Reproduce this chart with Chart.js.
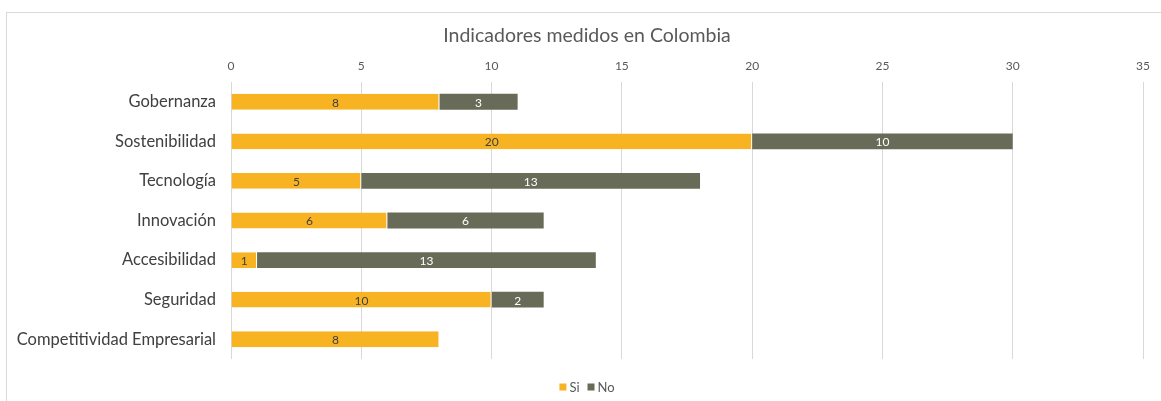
<!DOCTYPE html>
<html>
<head>
<meta charset="utf-8">
<script src="https://cdn.jsdelivr.net/npm/chart.js@4/dist/chart.umd.min.js"></script>
<style>
  html, body { margin: 0; padding: 0; background: #fff; overflow: hidden; }
  #frame { position: absolute; left: 6px; top: 12px; width: 1200px; height: 450px; border: 1px solid #d9d9d9; box-sizing: border-box; }
  #wrap { position: absolute; left: 0; top: 0; width: 1161px; height: 401px; }
</style>
</head>
<body>
<div id="frame"></div>
<div id="wrap"><canvas id="chart"></canvas></div>
<script>
// Categories and series values
const categories = ['Gobernanza', 'Sostenibilidad', 'Tecnología', 'Innovación', 'Accesibilidad', 'Seguridad', 'Competitividad Empresarial'];
const siValues = [8, 20, 5, 6, 1, 10, 8];
const noValues = [3, 10, 13, 6, 13, 2, 0];
const xTicks = [0, 5, 10, 15, 20, 25, 30, 35];

const FONT = 'Lato, "Open Sans", sans-serif';
const TITLE = 'Indicadores medidos en Colombia';

// Draws the value inside each bar segment
const segmentLabels = {
  id: 'segmentLabels',
  afterDatasetsDraw(chart) {
    const ctx = chart.ctx;
    ctx.save();
    ctx.font = '12px ' + FONT;
    ctx.textAlign = 'center';
    ctx.textBaseline = 'middle';
    chart.data.datasets.forEach((ds, di) => {
      const meta = chart.getDatasetMeta(di);
      meta.data.forEach((bar, i) => {
        const v = ds.data[i];
        if (!v) return;
        const cx = (bar.x + bar.base) / 2;
        ctx.fillStyle = ds.labelColor;
        ctx.fillText(String(v), cx, bar.y + 1);
      });
    });
    ctx.restore();
  }
};

// Title and legend placed like the spreadsheet chart (centred a bit right of the plot)
const titleAndLegend = {
  id: 'titleAndLegend',
  afterDraw(chart) {
    const ctx = chart.ctx;
    const centerX = 587;
    ctx.save();
    ctx.fillStyle = '#595959';
    ctx.textBaseline = 'middle';
    ctx.textAlign = 'center';
    ctx.font = '19.5px ' + FONT;
    ctx.fillText(TITLE, centerX, 36);

    // legend
    ctx.font = '13px ' + FONT;
    ctx.textAlign = 'left';
    const box = 7, gap = 3, spacing = 8;
    const items = chart.data.datasets.map(ds => ({ text: ds.label, color: ds.backgroundColor, w: ctx.measureText(ds.label).width }));
    const total = items.reduce((s, it) => s + box + gap + it.w, 0) + spacing * (items.length - 1);
    let x = centerX - total / 2;
    const y = 387;
    items.forEach(it => {
      ctx.fillStyle = it.color;
      ctx.fillRect(x, y - box / 2, box, box);
      x += box + gap;
      ctx.fillStyle = '#595959';
      ctx.fillText(it.text, x, y + 1);
      x += it.w + spacing;
    });
    ctx.restore();
  }
};

new Chart(document.getElementById('chart'), {
  type: 'bar',
  data: {
    labels: categories,
    datasets: [
      { label: 'Si', data: siValues, backgroundColor: '#F8B323', borderColor: '#ffffff', borderWidth: { right: 1 }, borderSkipped: false, labelColor: '#404040' },
      { label: 'No', data: noValues, backgroundColor: '#686B58', borderColor: '#ffffff', borderWidth: 0, labelColor: '#ffffff' }
    ]
  },
  options: {
    indexAxis: 'y',
    responsive: true,
    maintainAspectRatio: false,
    animation: false,
    layout: { padding: { left: 0, right: 18, top: 56, bottom: 42 } },
    datasets: { bar: { categoryPercentage: 0.8, barPercentage: 0.5 } },
    scales: {
      x: {
        position: 'top',
        stacked: true,
        min: 0,
        max: 35,
        afterBuildTicks: (scale) => { scale.ticks = xTicks.map(v => ({ value: v })); },
        afterFit: (scale) => { scale.height = 26; },
        grid: { color: '#d9d9d9', drawTicks: false },
        border: { display: false },
        ticks: { padding: 9, color: '#595959', font: { family: FONT, size: 12 } }
      },
      y: {
        stacked: true,
        afterFit: (scale) => { scale.width = 231; },
        grid: { display: false },
        border: { display: false },
        ticks: { padding: 7, color: '#404040', font: { family: FONT, size: 16.5 } }
      }
    },
    plugins: {
      title: { display: false },
      legend: { display: false },
      tooltip: { enabled: false }
    }
  },
  plugins: [segmentLabels, titleAndLegend]
});
</script>
</body>
</html>
